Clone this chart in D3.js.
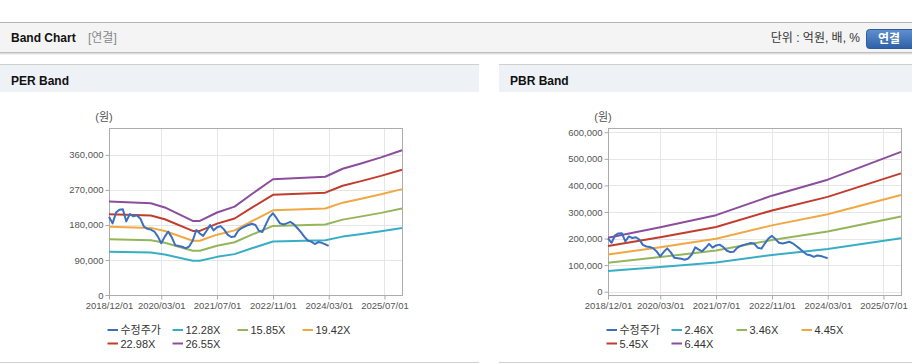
<!DOCTYPE html>
<html lang="ko">
<head>
<meta charset="utf-8">
<title>Band Chart</title>
<script src="https://d3js.org/d3.v7.min.js"></script>
<style>
  body { margin: 0; background: #fff; }
  svg { display: block; font-family: "Liberation Sans", Arial, "Noto Sans CJK KR", sans-serif; }
</style>
</head>
<body>
<script>
var W = 912, H = 364;

// 수정주가, monthly from 2018/12
var priceStart = "2018-12-01";
var priceValues = [
  201000, 184000, 212000, 219000, 220000, 189000, 208000, 202000, 205000, 196000,
  176000, 170000, 168000, 163000, 150000, 133000, 150000, 163000, 148000, 128000,
  126000, 124000, 120000, 125000, 140000, 167000, 158000, 152000, 165000, 180000,
  166000, 174000, 177000, 168000, 155000, 149000, 150000, 165000, 172000, 176000,
  180000, 183000, 180000, 165000, 162000, 182000, 200000, 210000, 198000, 184000,
  181000, 184000, 188000, 182000, 172000, 162000, 150000, 140000, 137000, 131000,
  136000, 134000, 130000, 126000
];

// PER band lines
var perDates = ["2018-12-01", "2019-12-01", "2020-04-01", "2020-12-01", "2021-02-01", "2021-07-01", "2021-12-01",
                "2022-05-01", "2022-11-01", "2024-02-01", "2024-07-01", "2024-12-01", "2025-06-01", "2025-12-01"];
var per1228 = [111000, 109000, 104000, 88000, 88000, 98000, 105000, 120000, 137500, 140500, 150000, 156000, 163500, 172000];
var per1585 = [143300, 140700, 134200, 113600, 113600, 126500, 135500, 154900, 177500, 181300, 193600, 201300, 211000, 222000];
var per1942 = [175500, 172400, 164500, 139200, 139200, 155000, 166000, 189800, 217400, 222200, 237200, 246700, 258600, 272000];
var per2298 = [207700, 204000, 194600, 164700, 164700, 183400, 196500, 224600, 257300, 262900, 280700, 291900, 306000, 321900];
var per2655 = [240000, 235700, 224900, 190300, 190300, 211900, 227000, 259500, 297300, 303800, 324300, 337300, 353500, 371900];

// PBR band lines
var pbrDates = ["2018-12-01", "2020-03-01", "2021-07-01", "2022-11-01", "2024-03-01", "2025-12-01"];
var pbr246 = [77500, 92500, 110000, 138000, 161000, 201000];
var pbr346 = [109000, 130100, 154700, 194100, 226400, 282700];
var pbr445 = [140200, 167300, 199000, 249600, 291200, 363600];
var pbr545 = [171700, 204900, 243700, 305700, 356700, 445300];
var pbr644 = [202900, 242200, 288000, 361300, 421500, 526200];

var perLabels = ["수정주가", "12.28X", "15.85X", "19.42X", "22.98X", "26.55X"];
var pbrLabels = ["수정주가", "2.46X", "3.46X", "4.45X", "5.45X", "6.44X"];
var seriesColors = ["#3d6fbf", "#38aec4", "#95b55b", "#f0a843", "#c23c2e", "#8c4e9c"];

var xTicks = ["2018-12-01", "2020-03-01", "2021-07-01", "2022-11-01", "2024-03-01", "2025-07-01"];
var perYTicks = [0, 90000, 180000, 270000, 360000];
var pbrYTicks = [0, 100000, 200000, 300000, 400000, 500000, 600000];

var parse = d3.timeParse("%Y-%m-%d");

var svg = d3.select("body").append("svg").attr("width", W).attr("height", H);

// ---- top header bar
svg.append("rect").attr("x", 0).attr("y", 0).attr("width", W).attr("height", H).attr("fill", "#fff");
svg.append("rect").attr("x", 0).attr("y", 22).attr("width", W).attr("height", 31).attr("fill", "#f4f4f4");
svg.append("line").attr("x1", 0).attr("x2", W).attr("y1", 22.5).attr("y2", 22.5).attr("stroke", "#b4b4b4");
svg.append("line").attr("x1", 0).attr("x2", W).attr("y1", 52.5).attr("y2", 52.5).attr("stroke", "#bdbdbd");
svg.append("rect").attr("x", 0).attr("y", 53).attr("width", W).attr("height", 1).attr("fill", "#dedede");
svg.append("rect").attr("x", 0).attr("y", 54).attr("width", W).attr("height", 1).attr("fill", "#f0f0f0");

svg.append("text").attr("x", 11).attr("y", 42).text("Band Chart")
  .style("font-size", "12px").style("font-weight", "bold").attr("fill", "#111");
svg.append("text").attr("x", 88).attr("y", 42).text("[연결]")
  .style("font-size", "12px").attr("fill", "#888");
svg.append("text").attr("x", 860).attr("y", 42).attr("text-anchor", "end").text("단위 : 억원, 배, %")
  .style("font-size", "12px").attr("fill", "#333");

var grad = svg.append("defs").append("linearGradient").attr("id", "btn").attr("x1", 0).attr("x2", 0).attr("y1", 0).attr("y2", 1);
grad.append("stop").attr("offset", "0%").attr("stop-color", "#5f91d0");
grad.append("stop").attr("offset", "100%").attr("stop-color", "#2f60a6");
svg.append("rect").attr("x", 866.5).attr("y", 29.5).attr("width", 50).attr("height", 19).attr("rx", 3)
  .attr("fill", "url(#btn)").attr("stroke", "#2d5b9c");
svg.append("text").attr("x", 889).attr("y", 43).attr("text-anchor", "middle").text("연결")
  .style("font-size", "12px").style("font-weight", "bold").attr("fill", "#fff");

// ---- one panel with its band chart
function drawPanel(px, pw, title, left, yDomain, yTicks, bands, bandDates, labels) {
  var g = svg.append("g");
  g.append("line").attr("x1", px).attr("x2", px + pw).attr("y1", 64.5).attr("y2", 64.5).attr("stroke", "#cfcfcf");
  g.append("rect").attr("x", px).attr("y", 65).attr("width", pw).attr("height", 27).attr("fill", "#eef2f7");
  g.append("line").attr("x1", px).attr("x2", px + pw).attr("y1", 362.5).attr("y2", 362.5).attr("stroke", "#d0d0d0");
  g.append("text").attr("x", px + 11).attr("y", 85).text(title)
    .style("font-size", "12px").style("font-weight", "bold").attr("fill", "#111");

  var top = 128, bottom = 295, right = left + 293;
  var x = d3.scaleTime().domain([parse("2018-12-01"), parse("2025-12-01")]).range([left, right]);
  var y = d3.scaleLinear().domain(yDomain).range([bottom, top]);

  // grid
  g.append("g").selectAll("line.gy").data(yTicks).join("line")
    .attr("x1", left).attr("x2", right)
    .attr("y1", d => Math.round(y(d)) + 0.5).attr("y2", d => Math.round(y(d)) + 0.5)
    .attr("stroke", "#e6e6e6");
  g.append("g").selectAll("line.gx").data(xTicks).join("line")
    .attr("x1", d => Math.round(x(parse(d))) + 0.5).attr("x2", d => Math.round(x(parse(d))) + 0.5)
    .attr("y1", top).attr("y2", bottom)
    .attr("stroke", "#e6e6e6");

  // axes
  var yAxis = d3.axisLeft(y).tickValues(yTicks).tickFormat(d3.format(",")).tickSizeInner(4).tickSizeOuter(0).tickPadding(2);
  var ya = g.append("g").attr("transform", "translate(" + (left + 0.5) + ",0)").call(yAxis);
  var xAxis = d3.axisBottom(x).tickValues(xTicks.map(parse)).tickFormat(d3.timeFormat("%Y/%m/%d")).tickSizeInner(4).tickSizeOuter(0).tickPadding(3);
  var xa = g.append("g").attr("transform", "translate(0," + (bottom + 0.5) + ")").call(xAxis);
  [ya, xa].forEach(function (a) {
    a.select(".domain").remove();
    a.selectAll("line").attr("stroke", "#a8a8a8");
    a.selectAll("text").attr("fill", "#555").style("font-size", "9.5px").style("font-family", "'Liberation Sans', Arial, sans-serif");
  });

  g.append("rect").attr("x", left + 0.5).attr("y", top + 0.5).attr("width", right - left).attr("height", bottom - top)
    .attr("fill", "none").attr("stroke", "#acacac");

  g.append("text").attr("x", left - 5).attr("y", 121).attr("text-anchor", "middle").text("(원)")
    .style("font-size", "11px").attr("fill", "#555");

  // band lines
  var line = d3.line().x(d => x(d[0])).y(d => y(d[1]));
  bands.forEach(function (vals, i) {
    var pts = vals.map((v, j) => [parse(bandDates[j]), v]);
    g.append("path").attr("d", line(pts)).attr("fill", "none")
      .attr("stroke", seriesColors[i + 1]).attr("stroke-width", 2).attr("stroke-linejoin", "round");
  });

  // price line
  var start = parse(priceStart);
  var pricePts = priceValues.map((v, i) => [d3.timeMonth.offset(start, i), v]);
  g.append("path").attr("d", line(pricePts)).attr("fill", "none")
    .attr("stroke", seriesColors[0]).attr("stroke-width", 2).attr("stroke-linejoin", "round");

  // legend
  labels.forEach(function (lab, i) {
    var lx = left - 1.5 + (i % 4) * 65;
    var ly = 330 + Math.floor(i / 4) * 13.5;
    g.append("line").attr("x1", lx).attr("x2", lx + 10.5).attr("y1", ly).attr("y2", ly)
      .attr("stroke", seriesColors[i]).attr("stroke-width", 2);
    g.append("text").attr("x", lx + 13).attr("y", ly + 4).text(lab)
      .style("font-size", "11px").attr("fill", "#333");
  });
}

drawPanel(0, 479, "PER Band", 109, [0, 429000], perYTicks,
  [per1228, per1585, per1942, per2298, per2655], perDates, perLabels);
drawPanel(499, 413, "PBR Band", 608, [-12500, 616000], pbrYTicks,
  [pbr246, pbr346, pbr445, pbr545, pbr644], pbrDates, pbrLabels);
</script>
</body>
</html>
